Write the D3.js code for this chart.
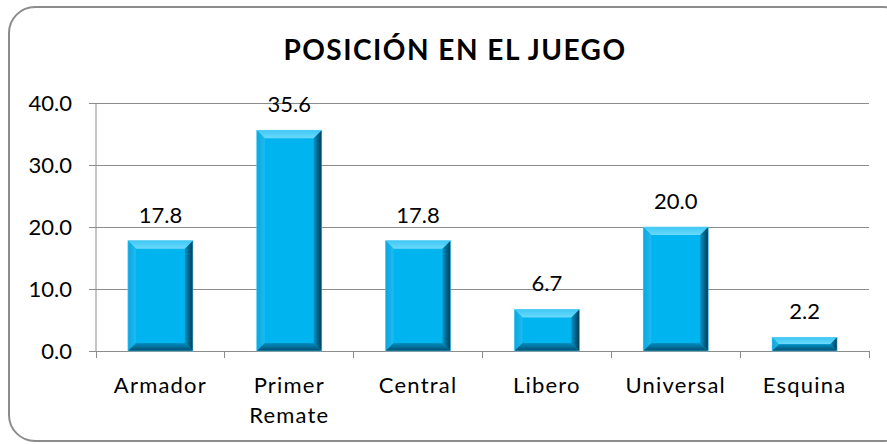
<!DOCTYPE html>
<html><head><meta charset="utf-8">
<script src="https://cdn.jsdelivr.net/npm/d3@7"></script>
<style>body{margin:0;background:#fff}svg{display:block}</style>
</head><body>
<svg id="c" width="887" height="444"></svg>
<script>
const categories = [["Armador"],["Primer","Remate"],["Central"],["Libero"],["Universal"],["Esquina"]];
const values = [17.8, 35.6, 17.8, 6.7, 20.0, 2.2];
const yTicks = [0, 10, 20, 30, 40];
const title = "POSICIÓN EN EL JUEGO";

const svg = d3.select("#c");
const font = "Lato, 'Open Sans', sans-serif";

// frame
svg.append("rect").attr("x",9).attr("y",7).attr("width",900).attr("height",434)
  .attr("rx",26).attr("ry",26).attr("fill","#fff").attr("stroke","#8c8c8c").attr("stroke-width",2);

const m = {l:96, r:869, t:103, b:351};
const x = d3.scaleBand().domain(d3.range(categories.length)).range([m.l, m.r]).paddingInner(0).paddingOuter(0);
const y = d3.scaleLinear().domain([0,40]).range([m.b, m.t]);

// title
svg.append("text").attr("x",455).attr("y",60).attr("text-anchor","middle")
  .attr("font-family",font).attr("font-weight","bold").attr("font-size",28).attr("letter-spacing",1.5)
  .attr("fill","#000").text(title);

// gridlines
svg.append("g").selectAll("line").data(yTicks.filter(d=>d>0)).join("line")
  .attr("x1",m.l).attr("x2",m.r).attr("y1",d=>y(d)).attr("y2",d=>y(d))
  .attr("stroke","#8c8c8c").attr("stroke-width",1).attr("shape-rendering","crispEdges");

// y axis
const ya = svg.append("g").attr("transform",`translate(${m.l},0)`)
  .call(d3.axisLeft(y).tickValues(yTicks).tickFormat(d3.format(".1f")).tickSize(7).tickPadding(17));
ya.select(".domain").attr("stroke","#8c8c8c").attr("d",`M0,${m.t}V${m.b}`);
ya.selectAll(".tick line").attr("stroke","#8c8c8c");
ya.selectAll(".tick text").attr("font-family",font).attr("font-size",22).attr("fill","#000");

// x axis
svg.append("line").attr("x1",m.l-7).attr("x2",m.r).attr("y1",m.b).attr("y2",m.b).attr("stroke","#8c8c8c").attr("shape-rendering","crispEdges");
const bounds = d3.range(categories.length+1).map(i => i<categories.length ? x(i) : m.r);
svg.append("g").selectAll("line").data(bounds).join("line")
  .attr("x1",d=>d).attr("x2",d=>d).attr("y1",m.b).attr("y2",m.b+7)
  .attr("stroke","#8c8c8c").attr("shape-rendering","crispEdges");

const xl = svg.append("g").selectAll("text").data(categories).join("text")
  .attr("text-anchor","middle").attr("font-family",font).attr("font-size",22).attr("letter-spacing",1.2).attr("fill","#000")
  .attr("transform",(d,i)=>`translate(${x(i)+x.bandwidth()/2},${m.b+42})`);
xl.selectAll("tspan").data(d=>d).join("tspan").attr("x",0).attr("dy",(d,i)=>i?30:0).text(d=>d);

// bars with bevel
const defs = svg.append("defs");
const gR = defs.append("linearGradient").attr("id","gr").attr("x1",0).attr("x2",1).attr("y1",0).attr("y2",0);
gR.append("stop").attr("offset",0).attr("stop-color","#0090c4");
gR.append("stop").attr("offset",1).attr("stop-color","#003a52");
const gB = defs.append("linearGradient").attr("id","gb").attr("x1",0).attr("x2",0).attr("y1",0).attr("y2",1);
gB.append("stop").attr("offset",0).attr("stop-color","#0090c4");
gB.append("stop").attr("offset",1).attr("stop-color","#004d6d");
const gT = defs.append("linearGradient").attr("id","gt").attr("x1",0).attr("x2",0).attr("y1",0).attr("y2",1);
gT.append("stop").attr("offset",0).attr("stop-color","#3ec8f5");
gT.append("stop").attr("offset",1).attr("stop-color","#6cd9fb");
const gL = defs.append("linearGradient").attr("id","gl").attr("x1",0).attr("x2",1).attr("y1",0).attr("y2",0);
gL.append("stop").attr("offset",0).attr("stop-color","#0aa6df");
gL.append("stop").attr("offset",1).attr("stop-color","#1fbaf0");

const bw = 65;
const bars = svg.append("g").selectAll("g").data(values).join("g");
bars.each(function(v,i){
  const g = d3.select(this);
  const x0 = x(i)+x.bandwidth()/2-bw/2, x1 = x0+bw;
  const y0 = y(v), y1 = y(0);
  const b = Math.min(8, (y1-y0)/2);
  g.append("rect").attr("x",x0).attr("y",y0).attr("width",bw).attr("height",y1-y0).attr("fill","#00b4f0");
  g.append("polygon").attr("points",`${x0},${y0} ${x1},${y0} ${x1-b},${y0+b} ${x0+b},${y0+b}`).attr("fill","url(#gt)");
  g.append("polygon").attr("points",`${x0},${y0} ${x0+b},${y0+b} ${x0+b},${y1-b} ${x0},${y1}`).attr("fill","url(#gl)");
  g.append("polygon").attr("points",`${x1},${y0} ${x1},${y1} ${x1-b},${y1-b} ${x1-b},${y0+b}`).attr("fill","url(#gr)");
  g.append("polygon").attr("points",`${x0},${y1} ${x1},${y1} ${x1-b},${y1-b} ${x0+b},${y1-b}`).attr("fill","url(#gb)");
  g.append("rect").attr("x",x0).attr("y",y0).attr("width",bw).attr("height",y1-y0).attr("fill","none").attr("stroke","#5ccff5").attr("stroke-width",0.8).attr("stroke-opacity",0.7);
  g.append("text").attr("x",(x0+x1)/2).attr("y",y0-18).attr("text-anchor","middle")
    .attr("font-family",font).attr("font-size",22).attr("fill","#000").text(d3.format(".1f")(v));
});
</script>
</body></html>
